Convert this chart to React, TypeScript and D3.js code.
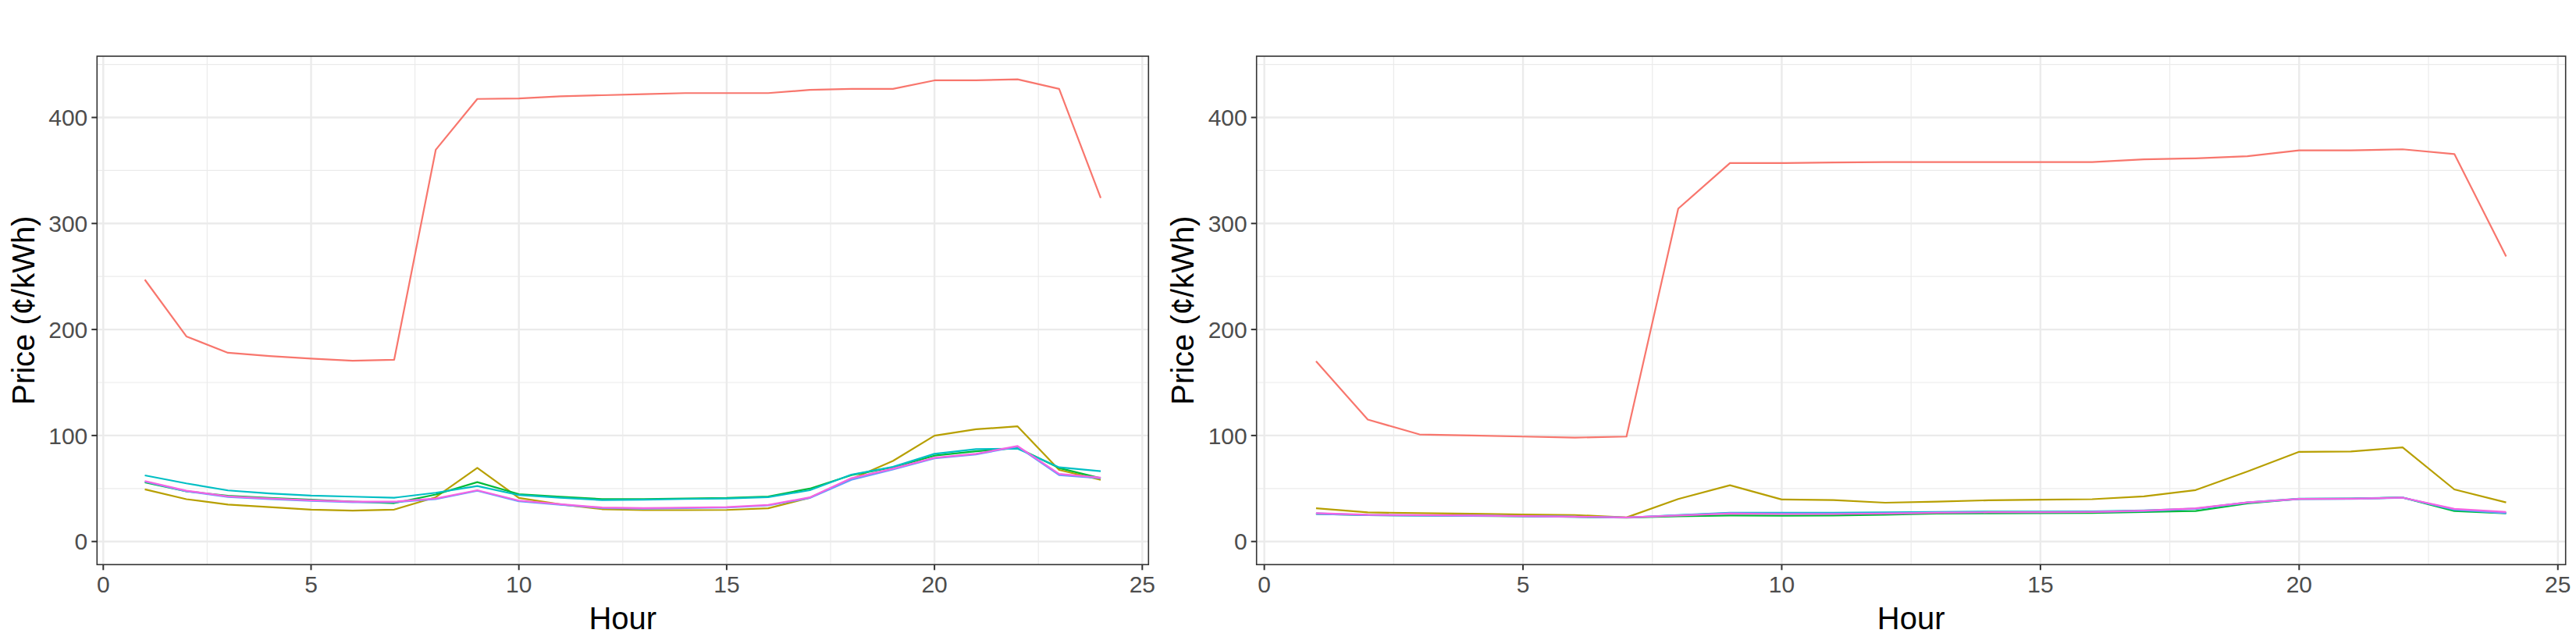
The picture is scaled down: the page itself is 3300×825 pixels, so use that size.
import React from "react";
import * as d3 from "d3";

const hours = d3.range(1, 25);

const seriesNames = ["s1", "s2", "s3", "s4", "s5", "s6"];
const seriesColors = ["#F8766D", "#B79F00", "#00BA38", "#00BFC4", "#619CFF", "#F564E3"];

// Panel 1
const red1 = [247, 193.5, 178, 175, 172.5, 170.5, 171.5, 369.5, 417.5, 418, 420, 421, 422, 423, 423, 423, 426, 427, 427, 435, 435, 436, 427, 324];
const olive1 = [49.2, 39.9, 34.9, 32.5, 30.1, 29.1, 30.1, 41.8, 69.4, 41.1, 35, 30.5, 29.6, 29.6, 29.8, 31.3, 41.3, 58.9, 76, 99.8, 105.9, 108.6, 67.5, 58.2];
const green1 = [55.8, 47.4, 43.1, 41.2, 39.4, 37.6, 36.2, 44.3, 56.0, 44.7, 42.2, 40.0, 40.1, 40.6, 41.1, 42.5, 49.9, 62.6, 70.0, 81.0, 85.1, 88.3, 69.3, 59.7];
const cyan1 = [62.4, 54.8, 48.2, 45.4, 43.3, 42.3, 41.3, 46.0, 52.3, 43.8, 41.3, 39.1, 39.4, 40.1, 40.6, 41.8, 48.4, 63.1, 70.4, 82.7, 87.1, 87.6, 70.0, 66.3];
const blue1 = [56.5, 47.4, 42.0, 40.0, 38.4, 37.1, 37.1, 40.0, 47.8, 38.0, 34.7, 31.6, 31.0, 31.5, 32.0, 34.0, 41.0, 58.2, 68.0, 78.5, 82.2, 89.5, 62.6, 59.6];
const magenta1 = [57.0, 47.9, 42.6, 40.5, 38.9, 37.6, 37.6, 40.5, 48.4, 38.6, 35.2, 32.1, 31.5, 32.0, 32.5, 34.5, 41.6, 59.7, 68.7, 79.0, 82.7, 90.1, 63.8, 60.2];

// Panel 2
const red2 = [170, 115, 101, 100, 99, 98, 99, 314, 357, 357, 357.5, 358, 358, 358, 358, 358, 360.5, 361.5, 363.5, 369, 369, 370, 365.5, 269];
const olive2 = [31.3, 27.5, 26.7, 26.2, 25.5, 25.0, 22.7, 40.1, 53.1, 39.6, 39.1, 36.6, 37.6, 38.9, 39.4, 39.9, 42.6, 48.5, 66, 84.6, 84.9, 88.8, 49.1, 36.9];
const green2 = [26.0, 24.8, 24.5, 24.2, 23.8, 23.3, 22.5, 23.8, 24.5, 24.3, 24.5, 25.2, 26.4, 26.6, 26.8, 27.0, 27.8, 28.8, 36.0, 40.2, 40.4, 41.4, 28.8, 26.6];
const cyan2 = [26.5, 25.0, 24.7, 24.4, 24.0, 23.4, 22.6, 25.0, 27.2, 27.2, 27.2, 27.5, 27.9, 28.2, 28.3, 28.5, 29.4, 31.0, 36.9, 40.4, 40.6, 41.6, 29.8, 27.0];
const blue2 = [26.0, 24.8, 24.6, 24.3, 23.9, 23.3, 22.6, 24.8, 26.8, 26.4, 26.4, 26.6, 27.3, 27.6, 27.6, 27.8, 28.8, 30.8, 36.7, 40.0, 40.2, 41.2, 30.2, 26.8];
const magenta2 = [26.7, 25.2, 24.9, 24.5, 24.0, 23.5, 22.7, 24.5, 26.4, 25.9, 25.9, 26.4, 27.1, 27.6, 27.6, 27.9, 29.1, 31.3, 36.9, 40.2, 40.4, 41.4, 30.8, 27.9];

const panel1Series = [red1, olive1, green1, cyan1, blue1, magenta1];
const panel2Series = [red2, olive2, green2, cyan2, blue2, magenta2];

const xTicks = [0, 5, 10, 15, 20, 25];
const yTicks = [0, 100, 200, 300, 400];
const xTitle = "Hour";
const yTitle = "Price (¢/kWh)";

const W = 3300;
const H = 825;
const TOP = 72;
const BOTTOM = 723.3;
const FONT = "'Liberation Sans', Arial, Helvetica, sans-serif";

const allVals = [...panel1Series, ...panel2Series].flat();
const yMax = d3.max(allVals) as number;
const yMin = 0;
const ySpan = yMax - yMin;
const yDomain: [number, number] = [yMin - 0.05 * ySpan, yMax + 0.05 * ySpan];
const xSpan = 24 - 1;
const xDomain: [number, number] = [1 - 0.05 * xSpan, 24 + 0.05 * xSpan];

function Panel({ left, right, series }: { left: number; right: number; series: number[][] }) {
  const x = d3.scaleLinear().domain(xDomain).range([left, right]);
  const y = d3.scaleLinear().domain(yDomain).range([BOTTOM, TOP]);
  const line = d3
    .line<number>()
    .x((_, i) => x(hours[i]))
    .y((d) => y(d));
  const xMinor = d3.range(2.5, 25, 5);
  const yMinor = d3.range(50, yDomain[1], 100);
  const cx = (left + right) / 2;
  const cy = (TOP + BOTTOM) / 2;
  return (
    <g>
      <rect x={left} y={TOP} width={right - left} height={BOTTOM - TOP} fill="#FFFFFF" />
      {yMinor.map((v) => (
        <line key={"ym" + v} x1={left} x2={right} y1={y(v)} y2={y(v)} stroke="#EBEBEB" strokeWidth={1.2} />
      ))}
      {xMinor.map((v) => (
        <line key={"xm" + v} x1={x(v)} x2={x(v)} y1={TOP} y2={BOTTOM} stroke="#EBEBEB" strokeWidth={1.2} />
      ))}
      {yTicks.map((v) => (
        <line key={"yM" + v} x1={left} x2={right} y1={y(v)} y2={y(v)} stroke="#EBEBEB" strokeWidth={2.4} />
      ))}
      {xTicks.map((v) => (
        <line key={"xM" + v} x1={x(v)} x2={x(v)} y1={TOP} y2={BOTTOM} stroke="#EBEBEB" strokeWidth={2.4} />
      ))}
      {series.map((s, i) => (
        <path
          key={seriesNames[i]}
          d={line(s) || ""}
          fill="none"
          stroke={seriesColors[i]}
          strokeWidth={2.2}
          strokeLinejoin="round"
        />
      ))}
      <rect x={left} y={TOP} width={right - left} height={BOTTOM - TOP} fill="none" stroke="#333333" strokeWidth={1.6} />
      {yTicks.map((v) => (
        <g key={"yt" + v}>
          <line x1={left - 7} x2={left} y1={y(v)} y2={y(v)} stroke="#333333" strokeWidth={2} />
          <text x={left - 12} y={y(v)} dy="0.36em" textAnchor="end" fontSize={30} fill="#4D4D4D" fontFamily={FONT}>
            {v}
          </text>
        </g>
      ))}
      {xTicks.map((v) => (
        <g key={"xt" + v}>
          <line x1={x(v)} x2={x(v)} y1={BOTTOM} y2={BOTTOM + 7} stroke="#333333" strokeWidth={2} />
          <text x={x(v)} y={759} textAnchor="middle" fontSize={30} fill="#4D4D4D" fontFamily={FONT}>
            {v}
          </text>
        </g>
      ))}
      <text x={cx} y={806} textAnchor="middle" fontSize={40} fill="#000000" fontFamily={FONT}>
        {xTitle}
      </text>
      <text
        transform={`translate(${left - 80.8},${cy}) rotate(-90)`}
        textAnchor="middle"
        fontSize={40}
        fill="#000000"
        fontFamily={FONT}
      >
        {yTitle}
      </text>
    </g>
  );
}

export default function App() {
  return (
    <div style={{ position: "fixed", left: 0, top: 0, width: W, height: H, background: "#FFFFFF" }}>
      <svg width={W} height={H} viewBox={`0 0 ${W} ${H}`} style={{ display: "block" }}>
        <rect x={0} y={0} width={W} height={H} fill="#FFFFFF" />
        <Panel left={124.3} right={1471.3} series={panel1Series} />
        <Panel left={1609.7} right={3286.7} series={panel2Series} />
      </svg>
    </div>
  );
}
